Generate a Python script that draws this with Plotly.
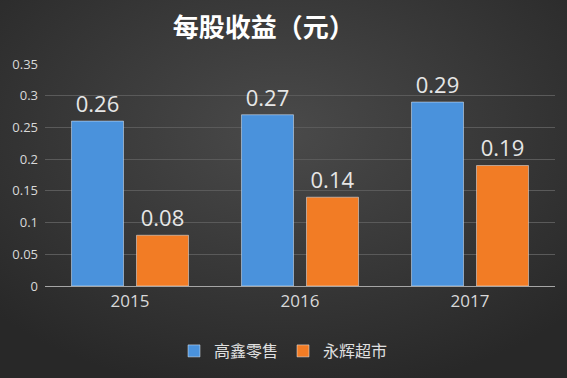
import plotly.graph_objects as go
import urllib.parse

years = ["2015", "2016", "2017"]
gaoxin = [0.26, 0.27, 0.29]
yonghui = [0.08, 0.14, 0.19]
y_ticks = [0, 0.05, 0.1, 0.15, 0.2, 0.25, 0.3, 0.35]
y_tick_text = ["0", "0.05", "0.1", "0.15", "0.2", "0.25", "0.3", "0.35"]

W, H = 567, 378
ML, MR, MT, MB = 45, 12, 64, 92
PW, PH = W - ML - MR, H - MT - MB

svg = ('<svg xmlns="http://www.w3.org/2000/svg" width="567" height="378" preserveAspectRatio="none">'
       '<defs><radialGradient id="g" cx="50%" cy="35%" r="70%">'
       '<stop offset="0%" stop-color="#4a4a4a"/><stop offset="100%" stop-color="#282828"/>'
       '</radialGradient></defs><rect width="567" height="378" fill="url(#g)"/></svg>')
bg = "data:image/svg+xml;charset=utf-8," + urllib.parse.quote(svg)

num_font = "Open Sans, Noto Sans CJK SC, sans-serif"
cjk_font = "Noto Sans CJK SC, sans-serif"

fig = go.Figure()
fig.add_trace(go.Bar(x=years, y=gaoxin, name="高鑫零售", marker_color="#4a92dc",
                     text=[f"{v:.2f}" for v in gaoxin], textposition="outside",
                     textfont=dict(size=22, color="#e6e6e6", family=num_font), cliponaxis=False))
fig.add_trace(go.Bar(x=years, y=yonghui, name="永辉超市", marker_color="#f27c25",
                     text=[f"{v:.2f}" for v in yonghui], textposition="outside",
                     textfont=dict(size=22, color="#e6e6e6", family=num_font), cliponaxis=False))

fig.update_layout(
    width=W, height=H,
    margin=dict(l=ML, r=MR, t=MT, b=MB),
    paper_bgcolor="#333333", plot_bgcolor="rgba(0,0,0,0)",
    images=[dict(source=bg, xref="paper", yref="paper",
                 x=-ML / PW, y=1 + MT / PH, sizex=W / PW, sizey=H / PH,
                 xanchor="left", yanchor="top", sizing="stretch", layer="below")],
    title=dict(text="<b>每股收益（元）</b>", x=0.465, xanchor="center", y=1 - 28 / H, yanchor="middle",
               font=dict(size=26, color="#ffffff", family=cjk_font)),
    barmode="group", bargap=0.235, bargroupgap=0.2,
    font=dict(family=num_font, color="#d9d9d9"),
    xaxis=dict(showgrid=False, showline=True, linecolor="#a6a6a6", linewidth=1,
               tickfont=dict(size=17, color="#d9d9d9"), ticks=""),
    yaxis=dict(range=[0, 0.35], tickvals=y_ticks, ticktext=y_tick_text,
               showgrid=True, gridcolor="#5a5a5a", gridwidth=1, zeroline=False,
               tickfont=dict(size=13, color="#d9d9d9"), ticks="", ticklabelstandoff=6),
    legend=dict(orientation="h", xref="container", x=0.5, xanchor="center",
                yref="container", y=1 - 351 / H, yanchor="middle",
                bgcolor="rgba(0,0,0,0)",
                font=dict(size=16, color="#e0e0e0", family=cjk_font), itemwidth=30,
                traceorder="normal"),
    showlegend=True,
)

fig.write_html("out.html", config={"displayModeBar": False},
               post_script="document.body.style.margin='0';document.body.style.overflow='hidden';")
